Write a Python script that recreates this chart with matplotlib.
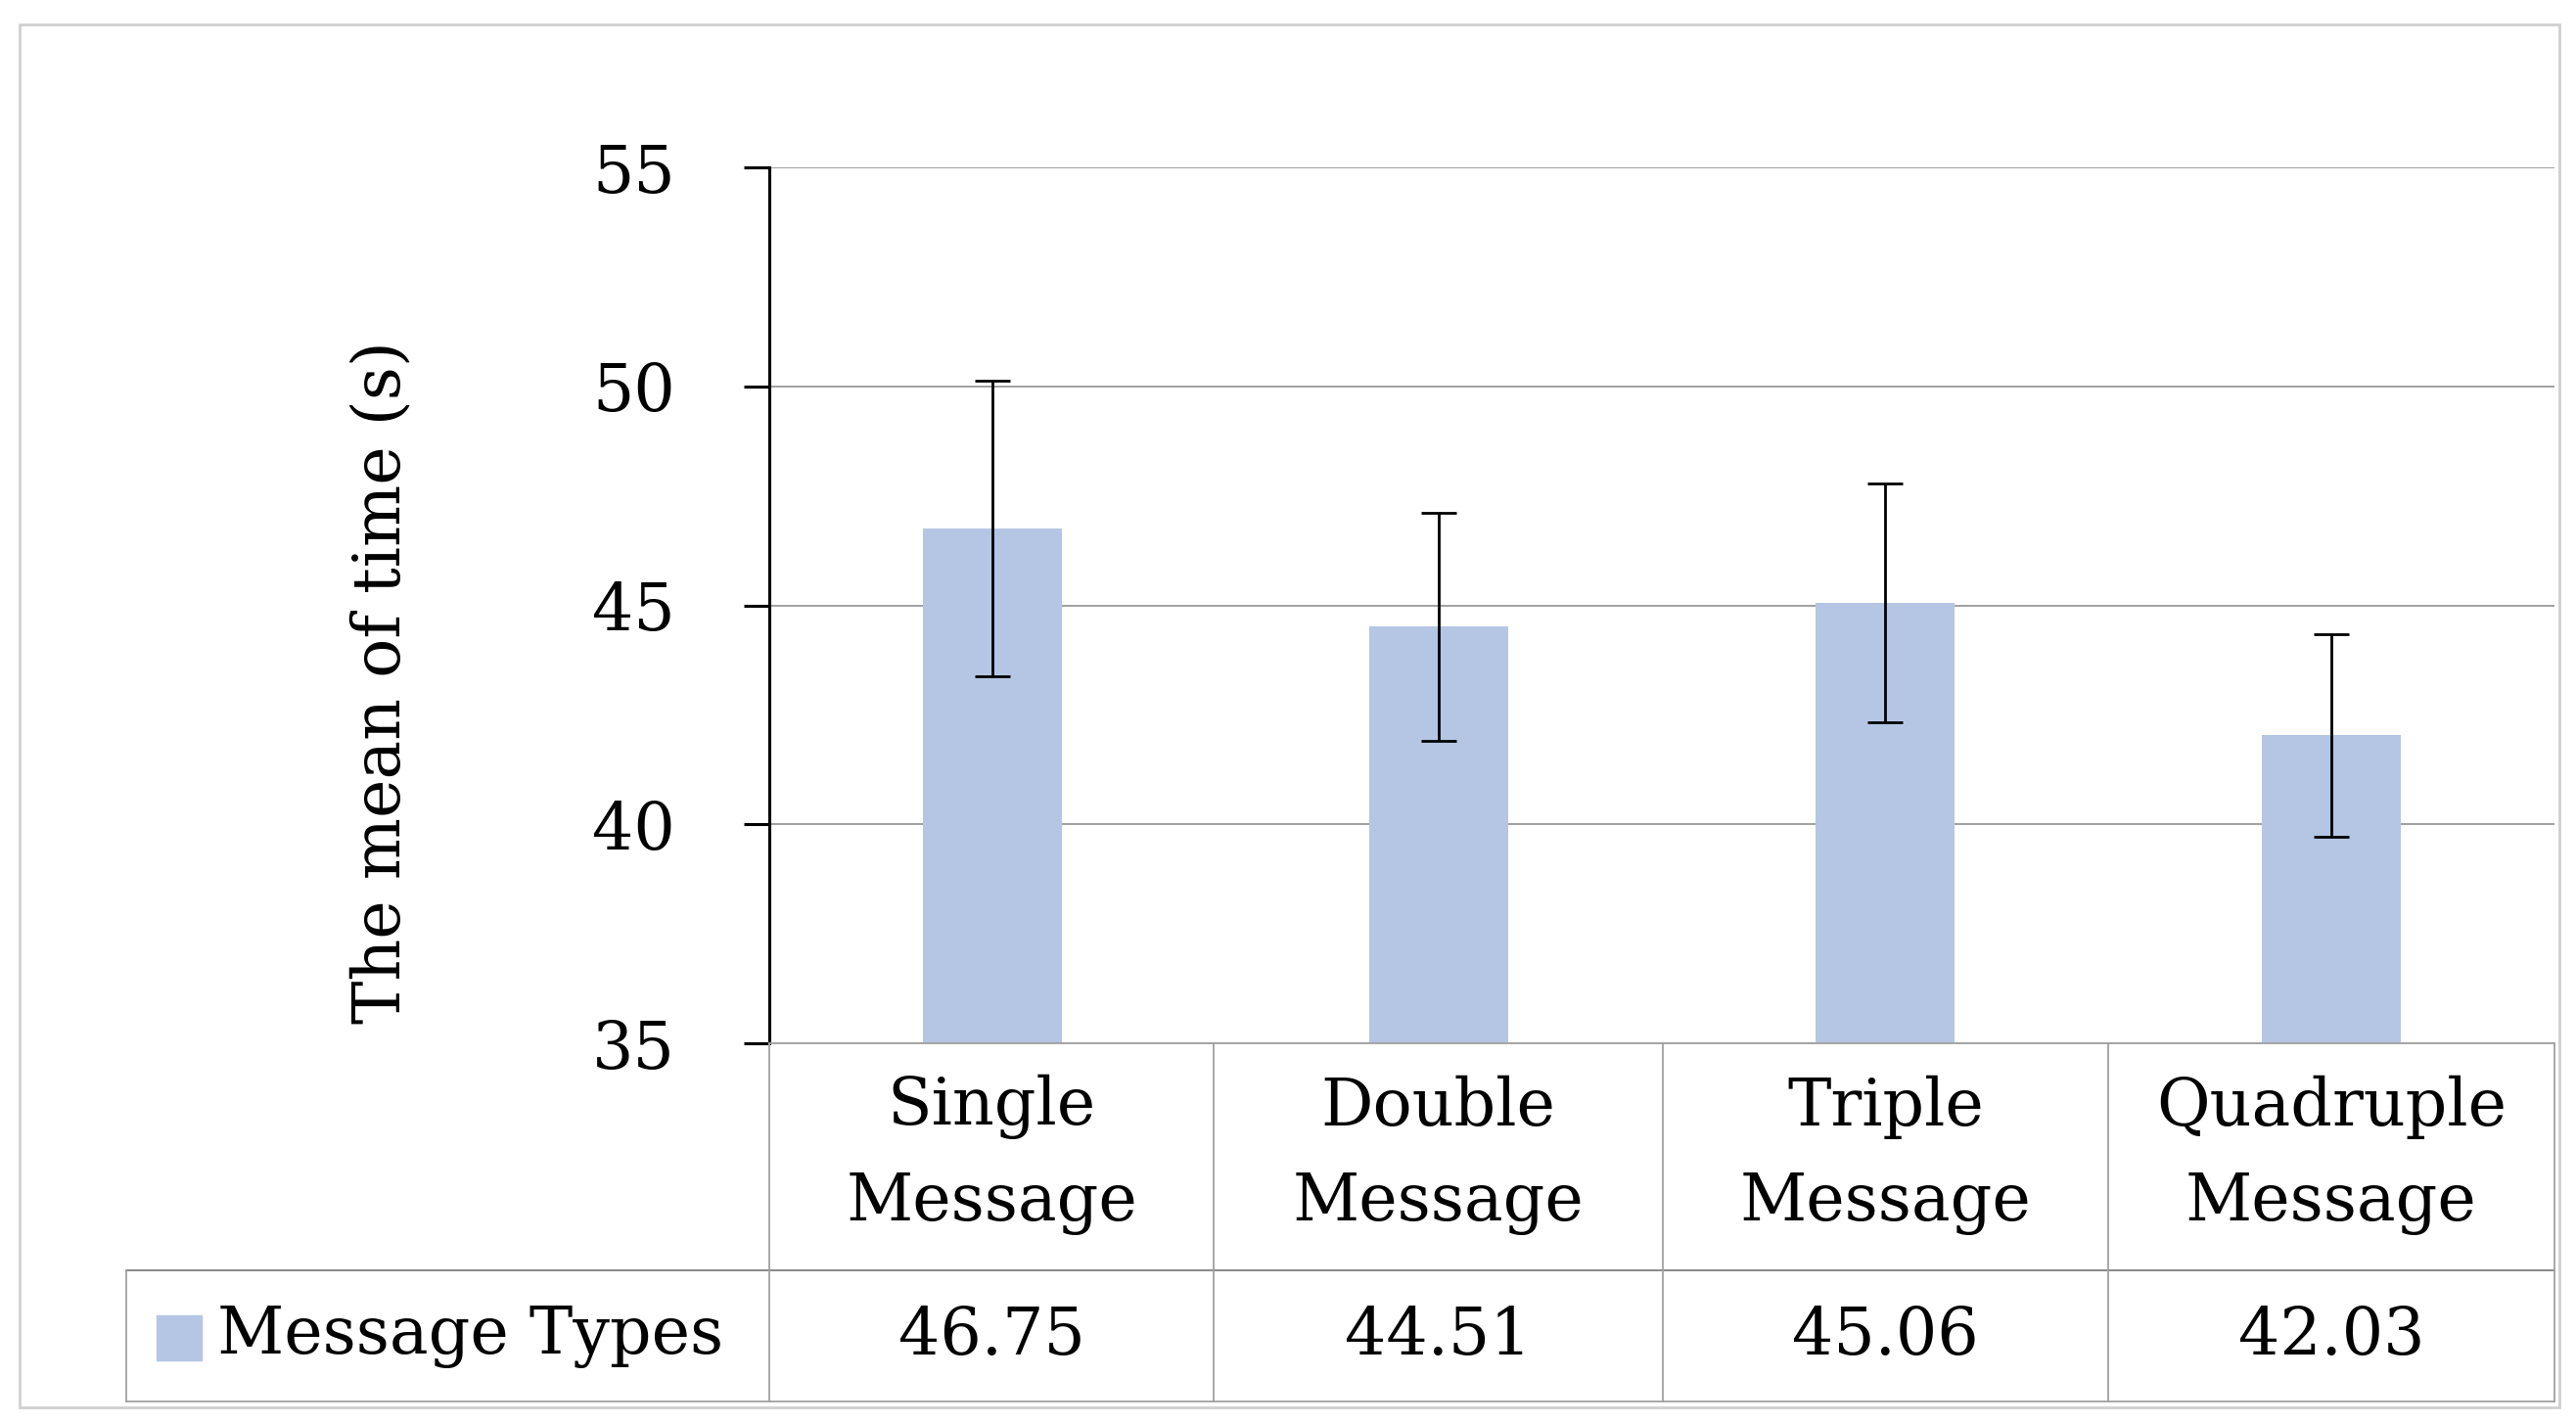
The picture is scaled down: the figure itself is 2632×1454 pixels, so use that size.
import matplotlib
matplotlib.use("Agg")
from matplotlib import pyplot as plt
from matplotlib.lines import Line2D
from matplotlib.patches import Rectangle
import numpy as np

categories = ["Single\nMessage", "Double\nMessage", "Triple\nMessage", "Quadruple\nMessage"]
means = [46.75, 44.51, 45.06, 42.03]
errors = [3.37, 2.6, 2.73, 2.31]
series_name = "Message Types"
y_ticks = [35, 40, 45, 50, 55]

W, H = 2632, 1454
bar_color = "#b4c6e4"
line_gray = "#a0a0a0"
fnt = "DejaVu Serif"
fs = 48

fig = plt.figure(figsize=(W / 100, H / 100), dpi=100)

def fx(px):
	return px / W

def fy(py):
	return 1 - py / H

# plot area in pixels
left, right, top, bottom = 786, 2610, 171, 1066
ax = fig.add_axes([fx(left), fy(bottom), fx(right - left), fy(top) - fy(bottom)])

x = np.arange(len(means))
ax.bar(x, means, width=0.31, color=bar_color, zorder=2)
ax.errorbar(x, means, yerr=errors, fmt="none", ecolor="black", elinewidth=2,
	capsize=13, capthick=2, zorder=3)

ax.set_xlim(-0.5, len(means) - 0.5)
ax.set_ylim(35, 55)
ax.set_yticks(y_ticks)
ax.set_yticklabels([str(t) for t in y_ticks], fontsize=fs, family=fnt)
ax.set_xticks([])
ax.yaxis.grid(True, color=line_gray, linewidth=1.4, zorder=0)
for s in ["top", "right", "bottom"]:
	ax.spines[s].set_visible(False)
ax.spines["left"].set_linewidth(2.2)
ax.tick_params(axis="y", length=19, width=2.2, pad=50)

# y label placed by hand, sits a bit below the axis middle like the original
fig.text(fx(390), fy(697), "The mean of time (s)", rotation=90, ha="center", va="center",
	fontsize=fs, family=fnt)

# data table under the chart
col_edges = [786, 1240, 1699, 2154, 2610]
row1_top, row2_top, row2_bot = 1066, 1298, 1432
hdr_left = 129

def hline(x0, x1, y, c=line_gray, lw=1.3):
	fig.add_artist(Line2D([fx(x0), fx(x1)], [fy(y), fy(y)], color=c, linewidth=lw))

def vline(xp, y0, y1, c=line_gray, lw=1.3):
	fig.add_artist(Line2D([fx(xp), fx(xp)], [fy(y0), fy(y1)], color=c, linewidth=lw))

hline(col_edges[0], col_edges[-1], row1_top)
hline(hdr_left, col_edges[-1], row2_top, c="#7f7f7f")
hline(hdr_left, col_edges[-1], row2_bot)
for xe in col_edges:
	vline(xe, row1_top, row2_bot)
vline(hdr_left, row2_top, row2_bot)

for i, (cat, val) in enumerate(zip(categories, means)):
	cx = (col_edges[i] + col_edges[i + 1]) / 2
	fig.text(fx(cx), fy((row1_top + row2_top) / 2 - 2), cat, ha="center", va="center",
		fontsize=fs, family=fnt, linespacing=1.62)
	fig.text(fx(cx), fy((row2_top + row2_bot) / 2), f"{val:.2f}", ha="center", va="center",
		fontsize=fs, family=fnt)

# legend key + series name
fig.add_artist(Rectangle((fx(160), fy(1390)), fx(46), fy(1344) - fy(1390), color=bar_color))
fig.text(fx(222), fy(1365), series_name, ha="left", va="center", fontsize=fs, family=fnt)

# outer frame
fig.add_artist(Rectangle((fx(20), fy(1438)), fx(2595), fy(25) - fy(1438), fill=False,
	edgecolor="#d0d0d0", linewidth=2))

fig.savefig("out.png", dpi=100)
